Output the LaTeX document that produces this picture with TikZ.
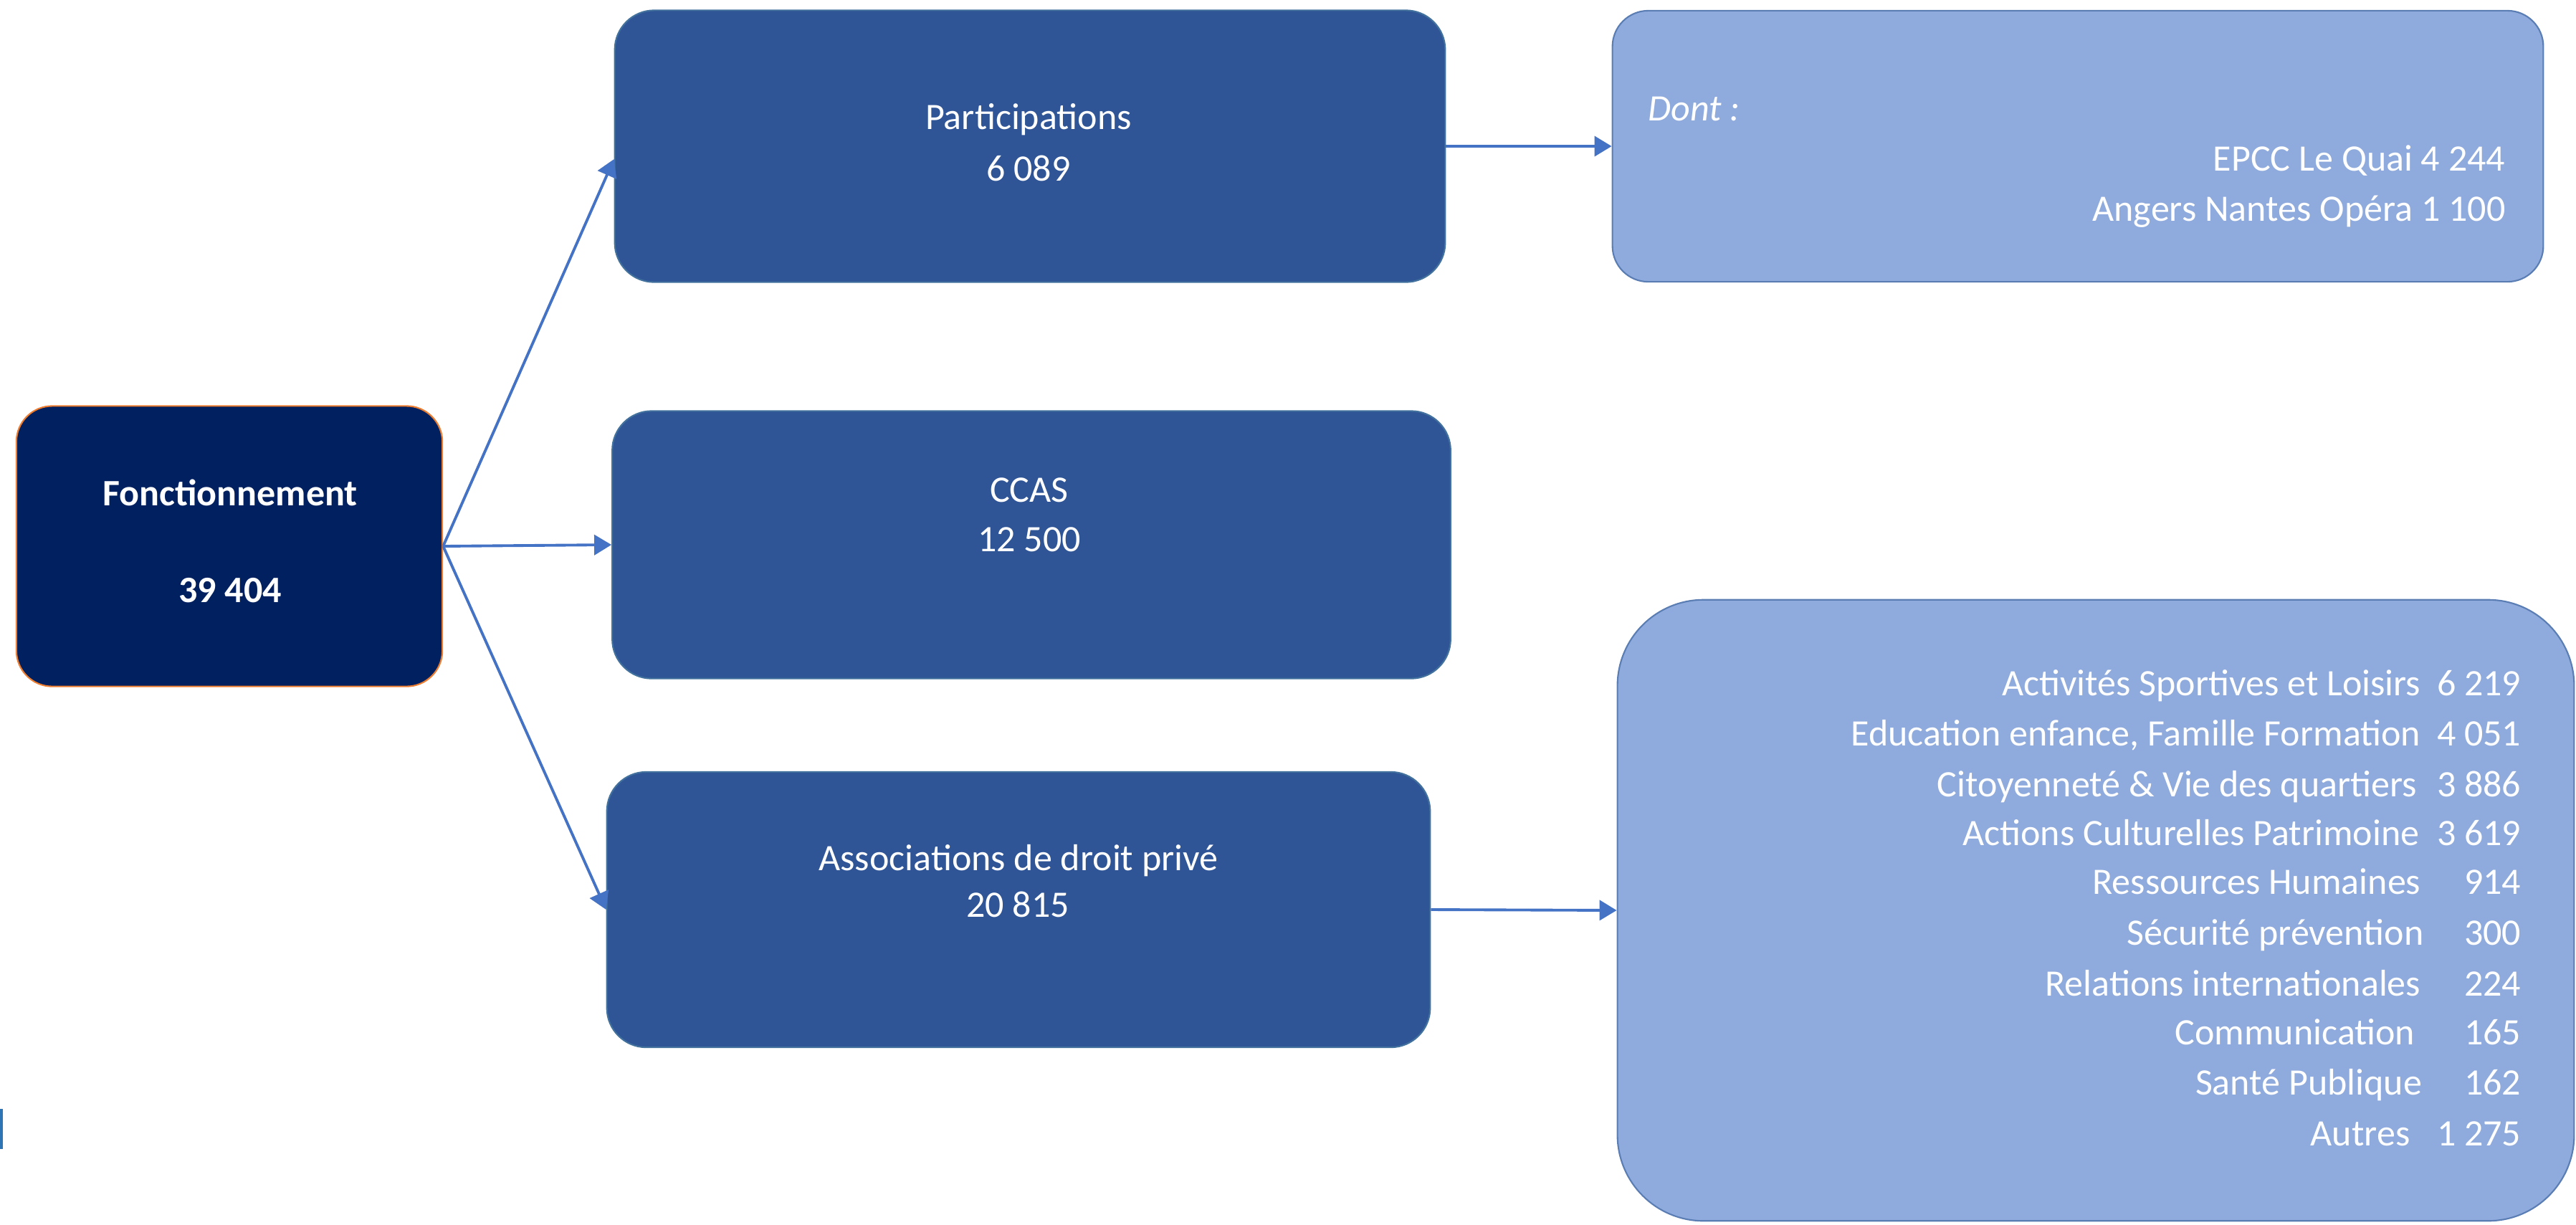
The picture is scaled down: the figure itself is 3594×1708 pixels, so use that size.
\documentclass[tikz,border=0pt]{standalone}
\usepackage{fontspec}
\setmainfont{Carlito}
\usetikzlibrary{arrows.meta}
\definecolor{navy}{RGB}{0,32,96}
\definecolor{midblue}{RGB}{47,85,151}
\definecolor{lightblue}{RGB}{143,170,220}
\definecolor{arrowblue}{RGB}{68,114,196}
\definecolor{orangeb}{RGB}{237,125,49}
\definecolor{edgeblue}{RGB}{65,113,156}
\definecolor{lightedge}{RGB}{90,125,180}
\definecolor{barblue}{RGB}{46,117,182}
\begin{document}
\begin{tikzpicture}[x=0.01cm,y=-0.01cm,
 box/.style={rectangle, inner sep=0pt, line width=0.6pt},
 rootbox/.style={box, fill=navy, draw=orangeb, rounded corners=0.5cm},
 midbox/.style={box, fill=midblue, draw=edgeblue, rounded corners=0.55cm},
 detbox/.style={box, fill=lightblue, draw=lightedge},
 txt/.style={text=white, inner sep=0pt, font=\fontsize{14.8}{18}\selectfont},
 txtb/.style={txt, font=\fontsize{14.8}{18}\selectfont\bfseries},
 txti/.style={txt, font=\fontsize{14.8}{18}\selectfont\itshape},
 conn/.style={draw=arrowblue, line width=1.1pt, -{Triangle[length=0.24cm,width=0.28cm]}}]
\useasboundingbox (0,0) rectangle (3594,1708);

% boxes
\node[rootbox, minimum width=5.94cm, minimum height=3.91cm] (root) at (320,762) {};
\node[midbox, minimum width=11.58cm, minimum height=3.79cm] (part) at (1437,204) {};
\node[midbox, minimum width=11.69cm, minimum height=3.73cm] (ccas) at (1439,760) {};
\node[midbox, minimum width=11.48cm, minimum height=3.84cm] (assoc) at (1421,1269) {};
\node[detbox, rounded corners=0.5cm, minimum width=12.98cm, minimum height=3.78cm] (dont) at (2899,204) {};
\node[detbox, rounded corners=1.2cm, minimum width=13.34cm, minimum height=8.66cm] (autres) at (2924,1270) {};

% texts
\node[txtb, anchor=mid] (t-root1) at (321,697) {Fonctionnement};
\node[txtb, anchor=mid] (t-root2) at (321,832) {39 404};
\node[txt, anchor=mid] (t-part1) at (1435,172) {Participations};
\node[txt, anchor=mid] (t-part2) at (1435,244) {6 089};
\node[txt, anchor=mid] (t-ccas1) at (1436,692) {CCAS};
\node[txt, anchor=mid] (t-ccas2) at (1436,761) {12 500};
\node[txt, anchor=mid] (t-assoc1) at (1421,1206) {Associations de droit privé};
\node[txt, anchor=mid] (t-assoc2) at (1420,1271) {20 815};

\node[txti, anchor=mid west] (t-dont0) at (2299,160) {Dont :};
\node[txt, anchor=mid east] (t-dont1) at (3496,230) {EPCC Le Quai 4 244};
\node[txt, anchor=mid east] (t-dont2) at (3496,300) {Angers Nantes Opéra 1 100};

\node[txt, anchor=mid east] (l1) at (3378,962) {Activités Sportives et Loisirs};
\node[txt, anchor=mid east] (n1) at (3518,962) {6 219};
\node[txt, anchor=mid east] (l2) at (3378,1032) {Education enfance, Famille Formation};
\node[txt, anchor=mid east] (n2) at (3518,1032) {4 051};
\node[txt, anchor=mid east] (l3) at (3373,1103) {Citoyenneté \& Vie des quartiers};
\node[txt, anchor=mid east] (n3) at (3518,1103) {3 886};
\node[txt, anchor=mid east] (l4) at (3376,1171) {Actions Culturelles Patrimoine};
\node[txt, anchor=mid east] (n4) at (3518,1171) {3 619};
\node[txt, anchor=mid east] (l5) at (3378,1239) {Ressources Humaines};
\node[txt, anchor=mid east] (n5) at (3518,1239) {914};
\node[txt, anchor=mid east] (l6) at (3382,1310) {Sécurité prévention};
\node[txt, anchor=mid east] (n6) at (3518,1310) {300};
\node[txt, anchor=mid east] (l7) at (3378,1381) {Relations internationales};
\node[txt, anchor=mid east] (n7) at (3518,1381) {224};
\node[txt, anchor=mid east] (l8) at (3370,1449) {Communication};
\node[txt, anchor=mid east] (n8) at (3518,1449) {165};
\node[txt, anchor=mid east] (l9) at (3380,1519) {Santé Publique};
\node[txt, anchor=mid east] (n9) at (3518,1519) {162};
\node[txt, anchor=mid east] (l10) at (3363,1590) {Autres};
\node[txt, anchor=mid east] (n10) at (3518,1590) {1 275};

% connectors
\draw[conn] (root.east) -- ([yshift=-0.18cm]part.west);
\draw[conn] (root.east) -- (ccas.west);
\draw[conn] (root.east) -- (assoc.west);
\draw[conn] (part.east) -- (dont.west);
\draw[conn] (assoc.east) -- (autres.west);

% edge artifact
\fill[barblue] (0,1547) rectangle (4,1603);
\end{tikzpicture}
\end{document}
